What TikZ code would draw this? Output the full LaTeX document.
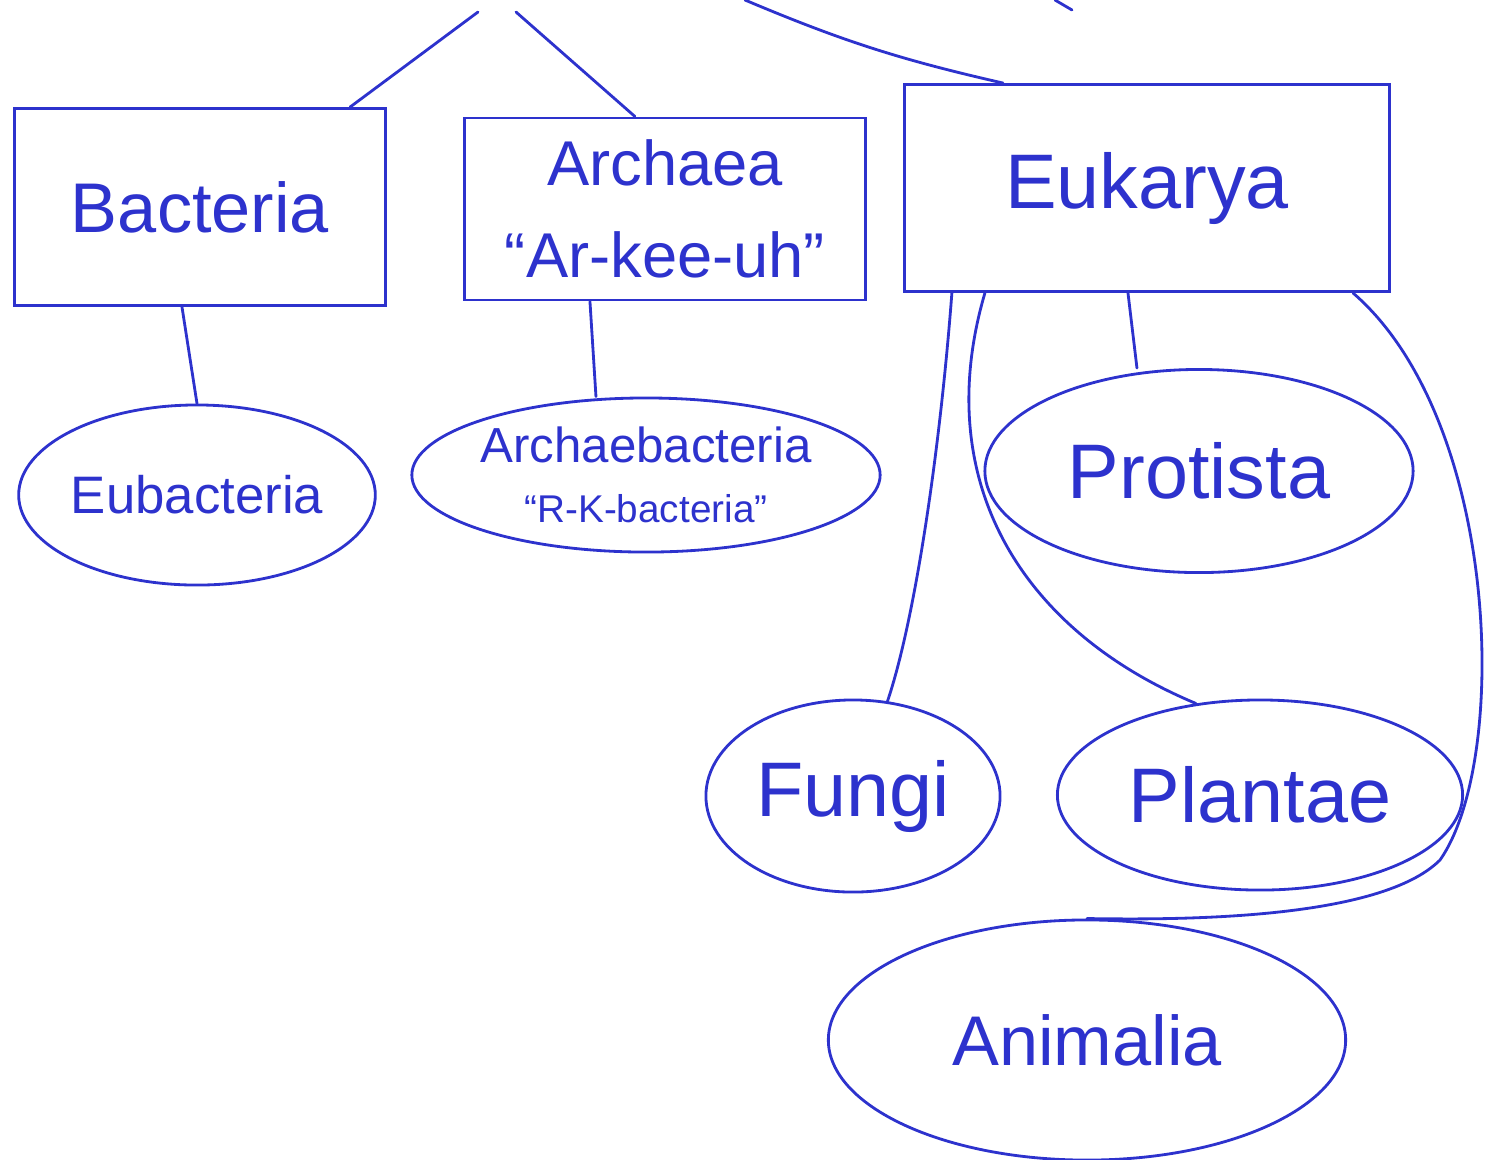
\documentclass[tikz,border=0pt]{standalone}
\usepackage{fontspec}
\setmainfont{Liberation Sans}
\usetikzlibrary{shapes.geometric}
\definecolor{pen}{RGB}{45,50,205}

\begin{document}
\begin{tikzpicture}[x=0.01cm,y=-0.01cm,
	every node/.style={text=pen},
	box/.style={draw=pen,line width=0.8pt,rectangle,inner sep=0pt,align=center},
	blob/.style={draw=pen,line width=0.8pt,ellipse,inner sep=0pt,align=center},
	link/.style={draw=pen,line width=0.8pt,line cap=round}]
	\useasboundingbox (0,0) rectangle (1505,1159);
	\node[box,minimum width=3.7cm,minimum height=1.97cm,font=\fontsize{20}{24}\selectfont] (bac) at (200,207) {Bacteria};
	\node[box,minimum width=4cm,minimum height=1.82cm,font=\fontsize{18}{26}\selectfont] (arch) at (665,209) {Archaea\\“Ar-kee-uh”};
	\node[box,minimum width=4.85cm,minimum height=2.07cm,font=\fontsize{22}{26}\selectfont] (euk) at (1147,188) {Eukarya};
	\node[blob,minimum width=3.5cm,minimum height=1.8cm,font=\fontsize{15}{18}\selectfont] (eub) at (197,495) {Eubacteria};
	\node[blob,minimum width=4.47cm,minimum height=1.54cm,font=\fontsize{14}{17}\selectfont] (archb) at (646,475) {Archaebacteria\\{\fontsize{11}{13}\selectfont “R-K-bacteria”}};
	\node[blob,minimum width=4.28cm,minimum height=2.03cm,font=\fontsize{22}{26}\selectfont] (prot) at (1199,471) {Protista};
	\node[blob,minimum width=2.94cm,minimum height=1.92cm,font=\fontsize{22}{26}\selectfont] (fungi) at (853,796) {Fungi};
	\node[blob,minimum width=4.05cm,minimum height=1.9cm,font=\fontsize{22}{26}\selectfont] (plantae) at (1260,795) {Plantae};
	\node[blob,minimum width=5.17cm,minimum height=2.4cm,font=\fontsize{20}{24}\selectfont] (ani) at (1087,1040) {Animalia};
	% strokes coming from above
	\coordinate (tA) at (478,12);
	\coordinate (tB) at (516,12);
	\coordinate (tC) at (745,0);
	\coordinate (tD) at (1055,0);
	\coordinate (tE) at (1072,10);
	\draw[link] (tA) -- ([xshift=1.5cm]bac.north);
	\draw[link] (tB) -- ([xshift=-0.3cm]arch.north);
	\draw[link] (tC) to[bend right=5] ([xshift=1cm]euk.north west);
	\draw[link] (tD) -- (tE);
	\draw[link] ([xshift=-0.18cm]bac.south) -- (eub.north);
	\draw[link] ([xshift=-0.75cm]arch.south) -- ([xshift=-0.5cm]archb.north);
	\draw[link] ([xshift=-0.19cm]euk.south) -- ([xshift=-0.62cm]prot.north);
	\draw[link] ([xshift=-1.95cm]euk.south) .. controls (940,450) and (915,620) .. (fungi.70);
	\draw[link] ([xshift=-1.62cm]euk.south) .. controls (930,480) and (1020,630) .. (plantae.125);
	\draw[link] ([xshift=-0.38cm]euk.south east) .. controls (1500,420) and (1510,760) .. (1440,860)
		.. controls (1380,920) and (1180,920) .. (ani.north);
\end{tikzpicture}
\end{document}
